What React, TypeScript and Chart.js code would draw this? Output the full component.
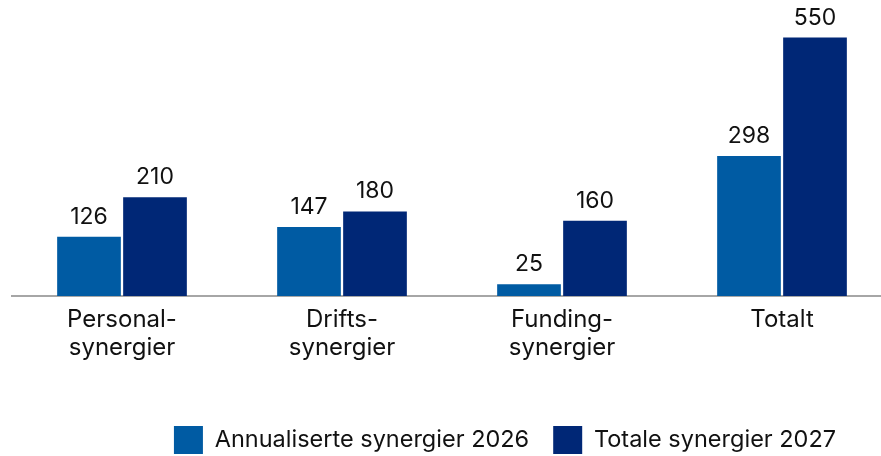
import React, { useEffect, useRef } from "react";
import { Chart, registerables } from "chart.js";

Chart.register(...registerables);

const categories: string[][] = [
  ["Personal-", "synergier"],
  ["Drifts-", "synergier"],
  ["Funding-", "synergier"],
  ["Totalt"],
];
const series2026: number[] = [126, 147, 25, 298];
const series2027: number[] = [210, 180, 160, 550];
const seriesNames: string[] = ["Annualiserte synergier 2026", "Totale synergier 2027"];
const colors: string[] = ["#005BA3", "#002776"];

const FONT = "Inter";
const LEGEND_PAD = 24;

const valueLabels = {
  id: "valueLabels",
  afterDatasetsDraw(chart: any) {
    const ctx = chart.ctx;
    ctx.save();
    ctx.font = `23px ${FONT}`;
    ctx.fillStyle = "#111";
    ctx.textAlign = "center";
    ctx.textBaseline = "alphabetic";
    chart.data.datasets.forEach((ds: any, i: number) => {
      const meta = chart.getDatasetMeta(i);
      meta.data.forEach((el: any, j: number) => {
        ctx.fillText(String(ds.data[j]), el.x, el.y - 13);
      });
    });
    ctx.restore();
  },
};

const legendPlacer = {
  id: "legendPlacer",
  beforeDraw(chart: any) {
    const lg = chart.legend;
    if (!lg || !lg.lineWidths) return;
    const full = lg.lineWidths[0];
    const block = full - LEGEND_PAD;
    const start = 505 - block / 2;
    lg.right = start + full;
    lg.left = start - LEGEND_PAD;
    const h = lg.bottom - lg.top;
    lg.top = 426 - LEGEND_PAD;
    lg.bottom = lg.top + h;
  },
};

export default function App() {
  const ref = useRef<HTMLCanvasElement>(null);
  useEffect(() => {
    document.body.style.margin = "0";
    document.body.style.overflow = "hidden";
    document.documentElement.style.overflow = "hidden";
    const chart = new Chart(ref.current!, {
      type: "bar",
      data: {
        labels: categories,
        datasets: [
          { label: seriesNames[0], data: series2026, backgroundColor: colors[0] },
          { label: seriesNames[1], data: series2027, backgroundColor: colors[1] },
        ],
      },
      options: {
        animation: false,
        responsive: true,
        maintainAspectRatio: false,
        layout: { padding: { left: 12, right: 0, top: 0, bottom: 0 } },
        datasets: {
          bar: { categoryPercentage: 0.6, barPercentage: 0.965 },
        } as any,
        scales: {
          x: {
            grid: { display: false },
            border: { display: true, color: "#a6a6a6", width: 2 },
            ticks: {
              color: "#111",
              font: { family: FONT, size: 24, lineHeight: 1.17 },
              padding: 2,
              maxRotation: 0,
              autoSkip: false,
            },
            afterFit(scale: any) {
              scale.height = 98;
            },
          },
          y: {
            display: false,
            min: 0,
            max: 630,
          },
        },
        plugins: {
          legend: {
            position: "bottom",
            align: "end",
            labels: {
              boxWidth: 29,
              boxHeight: 28,
              color: "#111",
              font: { family: FONT, size: 23.5 },
              padding: LEGEND_PAD,
            },
          },
          tooltip: { enabled: false },
        },
      },
      plugins: [valueLabels, legendPlacer],
    });
    return () => chart.destroy();
  }, []);
  return (
    <div style={{ width: "892px", height: "456px", position: "relative" }}>
      <canvas ref={ref} />
    </div>
  );
}
